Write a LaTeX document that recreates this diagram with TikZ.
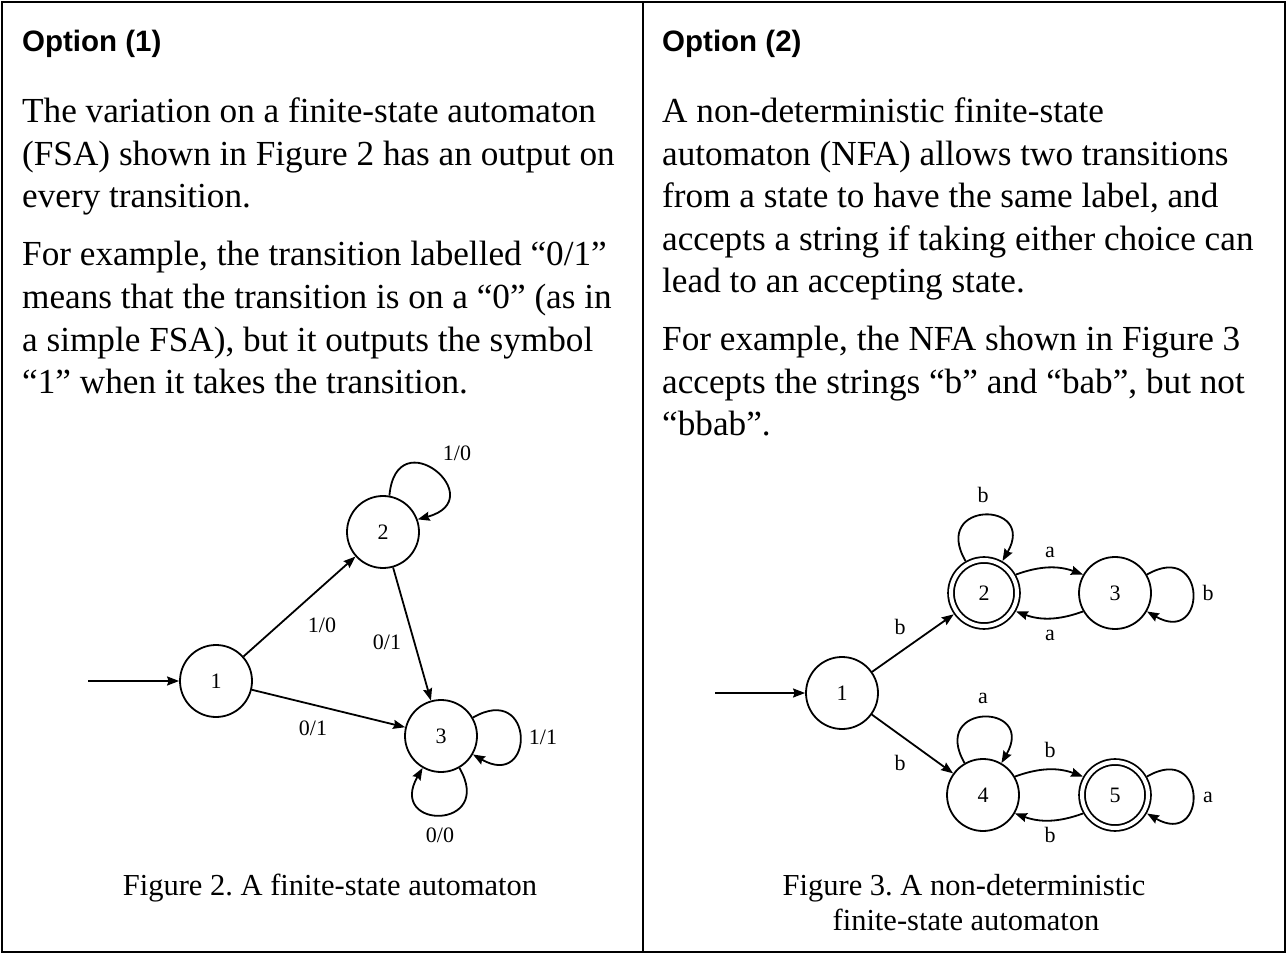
\documentclass[tikz,border=0pt]{standalone}
\usepackage{fontspec}
\newfontfamily\hdrfont{Liberation Sans}
\newfontfamily\autfont{Liberation Serif}
\usetikzlibrary{arrows.meta}
\frenchspacing
\newcommand\bodysize{\autfont\fontsize{35.2}{42}\selectfont}
\newcommand\autsize{\autfont\fontsize{22}{24}\selectfont}
\begin{document}
\begin{tikzpicture}[x=1pt,y=1pt,
  frame/.style={line width=2.4pt},
  st/.style={circle, draw, line width=1.8pt, minimum size=72pt, inner sep=0pt, font=\autsize},
  acc/.style={st, double, double distance=4pt, minimum size=66pt, outer sep=4pt},
  tr/.style={line width=1.8pt, -{Stealth[length=12pt,width=9pt,inset=1.5pt]}},
  lbl/.style={font=\autsize, inner sep=0pt},
  body/.style={anchor=base west, inner sep=0pt, font=\bodysize},
  hdr/.style={anchor=base west, inner sep=0pt, font=\hdrfont\bfseries\fontsize{29.5}{32}\selectfont},
  figcap/.style={anchor=base, inner sep=0pt, font=\autfont\fontsize{30.5}{34}\selectfont},
]
\useasboundingbox (0,0) rectangle (1287,954);
\draw[frame] (2,2) rectangle (1285,951.8);
\draw[frame] (643,2) -- (643,951.8);

% ---------- left column text ----------
\node[hdr] (h1) at (22,902) {Option (1)};
\node[body] (l1) at (22,831) {The variation on a finite-state automaton};
\node[body] (l2) at (22,788) {(FSA) shown in Figure 2 has an output on};
\node[body] (l3) at (22,746) {every transition.};
\node[body] (l4) at (22,688) {For example, the transition labelled “0/1”};
\node[body] (l5) at (22,645) {means that the transition is on a “0” (as in};
\node[body] (l6) at (22,602) {a simple FSA), but it outputs the symbol};
\node[body] (l7) at (22,560) {“1” when it takes the transition.};

% ---------- right column text ----------
\node[hdr] (h2) at (662,902) {Option (2)};
\node[body] (r1) at (662,831) {A non-deterministic finite-state};
\node[body] (r2) at (662,788) {automaton (NFA) allows two transitions};
\node[body] (r3) at (662,746) {from a state to have the same label, and};
\node[body] (r4) at (662,703) {accepts a string if taking either choice can};
\node[body] (r5) at (662,661) {lead to an accepting state.};
\node[body] (r6) at (662,603) {For example, the NFA shown in Figure 3};
\node[body] (r7) at (662,560) {accepts the strings “b” and “bab”, but not};
\node[body] (r8) at (662,518) {“bbab”.};

% ---------- Figure 2 ----------
\node[st] (f2n1) at (216,273) {1};
\node[st] (f2n2) at (383,422) {2};
\node[st] (f2n3) at (441,218) {3};
\coordinate (f2in) at (88,273);
\draw[tr] (f2in) -- (f2n1);
\draw[tr] (f2n1) -- (f2n2);
\draw[tr] (f2n2) -- (f2n3);
\draw[tr] (f2n1) -- (f2n3);
\draw[tr] (f2n2.80) .. controls +(85:78) and +(15:78) .. (f2n2.20);
\draw[tr] (f2n3.30) .. controls +(30:72) and +(-30:72) .. (f2n3.-30);
\draw[tr] (f2n3.-60) .. controls +(-60:72) and +(-120:72) .. (f2n3.-120);
\node[lbl] (f2a) at (457,501) {1/0};
\node[lbl] (f2b) at (322,329) {1/0};
\node[lbl] (f2c) at (387,312) {0/1};
\node[lbl] (f2d) at (313,226) {0/1};
\node[lbl] (f2e) at (543,217) {1/1};
\node[lbl] (f2f) at (440,119) {0/0};
\node[figcap] (c2) at (330,59) {Figure 2. A finite-state automaton};

% ---------- Figure 3 ----------
\node[st] (f3n1) at (842,261) {1};
\node[acc] (f3n2) at (984,361) {2};
\node[st] (f3n3) at (1115,361) {3};
\node[st] (f3n4) at (983,159) {4};
\node[acc] (f3n5) at (1115,159) {5};
\coordinate (f3in) at (715,261);
\draw[tr] (f3in) -- (f3n1);
\draw[tr] (f3n1) -- (f3n2);
\draw[tr] (f3n1) -- (f3n4);
\draw[tr] (f3n2.30) to[out=20,in=160] (f3n3.150);
\draw[tr] (f3n3.-150) to[out=-160,in=-20] (f3n2.-30);
\draw[tr] (f3n4.30) to[out=20,in=160] (f3n5.150);
\draw[tr] (f3n5.-150) to[out=-160,in=-20] (f3n4.-30);
\draw[tr] (f3n2.120) .. controls +(120:70) and +(60:70) .. (f3n2.60);
\draw[tr] (f3n4.120) .. controls +(120:70) and +(60:70) .. (f3n4.60);
\draw[tr] (f3n3.30) .. controls +(30:70) and +(-30:70) .. (f3n3.-30);
\draw[tr] (f3n5.30) .. controls +(30:70) and +(-30:70) .. (f3n5.-30);
\node[lbl] (g1) at (983,459) {b};
\node[lbl] (g2) at (1050,402) {a};
\node[lbl] (g3) at (1050,319) {a};
\node[lbl] (g4) at (1208,361) {b};
\node[lbl] (g5) at (900,327) {b};
\node[lbl] (g6) at (900,191) {b};
\node[lbl] (g7) at (983,256) {a};
\node[lbl] (g8) at (1050,204) {b};
\node[lbl] (g9) at (1050,119) {b};
\node[lbl] (g10) at (1208,157) {a};
\node[figcap] (c3a) at (964,59) {Figure 3. A non-deterministic};
\node[figcap] (c3b) at (966,24) {finite-state automaton};
\end{tikzpicture}
\end{document}
